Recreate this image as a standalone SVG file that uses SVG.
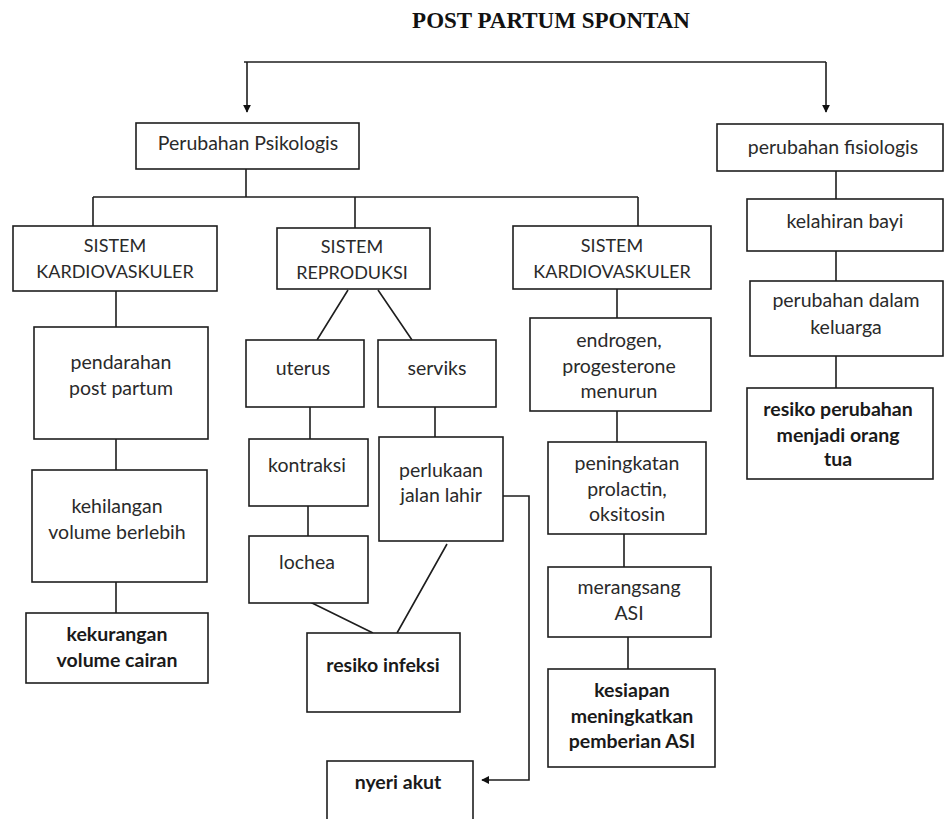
<svg xmlns="http://www.w3.org/2000/svg" width="944" height="819" viewBox="0 0 944 819">
<style>
.b{fill:#fff;stroke:#1e1e1e;stroke-width:1.6}
.t{font-family:Lato,"Liberation Sans",sans-serif;font-size:19.5px;fill:#2a2a2a;text-anchor:middle}
.cap{font-size:18px}
.tb{font-family:Lato,"Liberation Sans",sans-serif;font-size:19.5px;font-weight:bold;fill:#1a1a1a;text-anchor:middle}
.ttl{font-family:"Liberation Serif",serif;font-size:23px;font-weight:bold;fill:#111;text-anchor:middle}
.c{fill:none;stroke:#1e1e1e;stroke-width:1.6}
</style>
<defs>
<marker id="ah" viewBox="0 0 10 10" refX="9" refY="5" markerWidth="8" markerHeight="8" markerUnits="userSpaceOnUse" orient="auto">
<path d="M0,0 L10,5 L0,10 Z" fill="#111"/>
</marker>
</defs>
<rect width="944" height="819" fill="#fff"/>
<text class="ttl" x="551" y="28">POST PARTUM SPONTAN</text>
<g id="connectors">
<path class="c" d="M244,62 H826"/>
<path class="c" d="M247,62 V112" marker-end="url(#ah)"/>
<path class="c" d="M826,62 V112" marker-end="url(#ah)"/>
<path class="c" d="M246,169 V197 M93,197 H638 M93,197 V226 M355,197 V228 M638,197 V226"/>
<path class="c" d="M116,291 V327 M116,439 V470 M116,582 V613"/>
<path class="c" d="M348,290 L317,340 M378,290 L412,340"/>
<path class="c" d="M310,407 V439 M308,506 V536 M435,407 V437"/>
<path class="c" d="M310,602 L373,633 M447,544 L397,633"/>
<path class="c" d="M503,496 H529 V780 H482" marker-end="url(#ah)"/>
<path class="c" d="M617,289 V318 M617,411 V442 M624,534 V567 M628,637 V669"/>
<path class="c" d="M836,171 V199 M836,251 V281 M836,356 V388"/>
</g>
<g id="psikologis"><rect class="b" x="136" y="123" width="223" height="46"/><text class="t" x="248" y="150">Perubahan Psikologis</text></g>
<g id="fisiologis"><rect class="b" x="717" y="124" width="226" height="47"/><text class="t" x="833" y="154">perubahan fisiologis</text></g>
<g id="kardio1"><rect class="b" x="13" y="226" width="204" height="65"/><text class="t cap" x="115" y="252">SISTEM</text><text class="t cap" x="115" y="278">KARDIOVASKULER</text></g>
<g id="reproduksi"><rect class="b" x="277" y="228" width="153" height="61"/><text class="t cap" x="352" y="253">SISTEM</text><text class="t cap" x="352" y="279">REPRODUKSI</text></g>
<g id="kardio2"><rect class="b" x="513" y="226" width="198" height="63"/><text class="t cap" x="612" y="252">SISTEM</text><text class="t cap" x="612" y="278">KARDIOVASKULER</text></g>
<g id="kelahiran"><rect class="b" x="747" y="199" width="196" height="52"/><text class="t" x="845" y="228">kelahiran bayi</text></g>
<g id="pendarahan"><rect class="b" x="34" y="327" width="174" height="112"/><text class="t" x="121" y="369">pendarahan</text><text class="t" x="121" y="395">post partum</text></g>
<g id="kehilangan"><rect class="b" x="32" y="470" width="175" height="112"/><text class="t" x="117" y="513">kehilangan</text><text class="t" x="117" y="539">volume berlebih</text></g>
<g id="kekurangan"><rect class="b" x="26" y="613" width="182" height="70"/><text class="tb" x="117" y="641">kekurangan</text><text class="tb" x="117" y="667">volume cairan</text></g>
<g id="uterus"><rect class="b" x="246" y="340" width="118" height="67"/><text class="t" x="303" y="375">uterus</text></g>
<g id="serviks"><rect class="b" x="378" y="340" width="118" height="67"/><text class="t" x="437" y="375">serviks</text></g>
<g id="kontraksi"><rect class="b" x="249" y="439" width="119" height="67"/><text class="t" x="307" y="472">kontraksi</text></g>
<g id="perlukaan"><rect class="b" x="379" y="437" width="124" height="104"/><text class="t" x="441" y="477">perlukaan</text><text class="t" x="441" y="502">jalan lahir</text></g>
<g id="lochea"><rect class="b" x="249" y="536" width="119" height="67"/><text class="t" x="307" y="569">lochea</text></g>
<g id="resiko-infeksi"><rect class="b" x="307" y="633" width="153" height="79"/><text class="tb" x="383" y="672">resiko infeksi</text></g>
<g id="nyeri-akut"><rect class="b" x="327" y="761" width="146" height="70"/><text class="tb" x="398" y="789">nyeri akut</text></g>
<g id="endrogen"><rect class="b" x="530" y="318" width="181" height="93"/><text class="t" x="619" y="347">endrogen,</text><text class="t" x="619" y="373">progesterone</text><text class="t" x="619" y="398">menurun</text></g>
<g id="peningkatan"><rect class="b" x="548" y="442" width="158" height="92"/><text class="t" x="627" y="470">peningkatan</text><text class="t" x="627" y="496">prolactin,</text><text class="t" x="627" y="521">oksitosin</text></g>
<g id="merangsang"><rect class="b" x="548" y="567" width="163" height="70"/><text class="t" x="629" y="594">merangsang</text><text class="t" x="629" y="620">ASI</text></g>
<g id="kesiapan"><rect class="b" x="548" y="669" width="167" height="98"/><text class="tb" x="632" y="697">kesiapan</text><text class="tb" x="632" y="723">meningkatkan</text><text class="tb" x="632" y="748">pemberian ASI</text></g>
<g id="keluarga"><rect class="b" x="750" y="281" width="193" height="75"/><text class="t" x="846" y="307">perubahan dalam</text><text class="t" x="846" y="334">keluarga</text></g>
<g id="resiko-perubahan"><rect class="b" x="747" y="388" width="186" height="91"/><text class="tb" x="838" y="416">resiko perubahan</text><text class="tb" x="838" y="442">menjadi orang</text><text class="tb" x="838" y="466">tua</text></g>
</svg>
